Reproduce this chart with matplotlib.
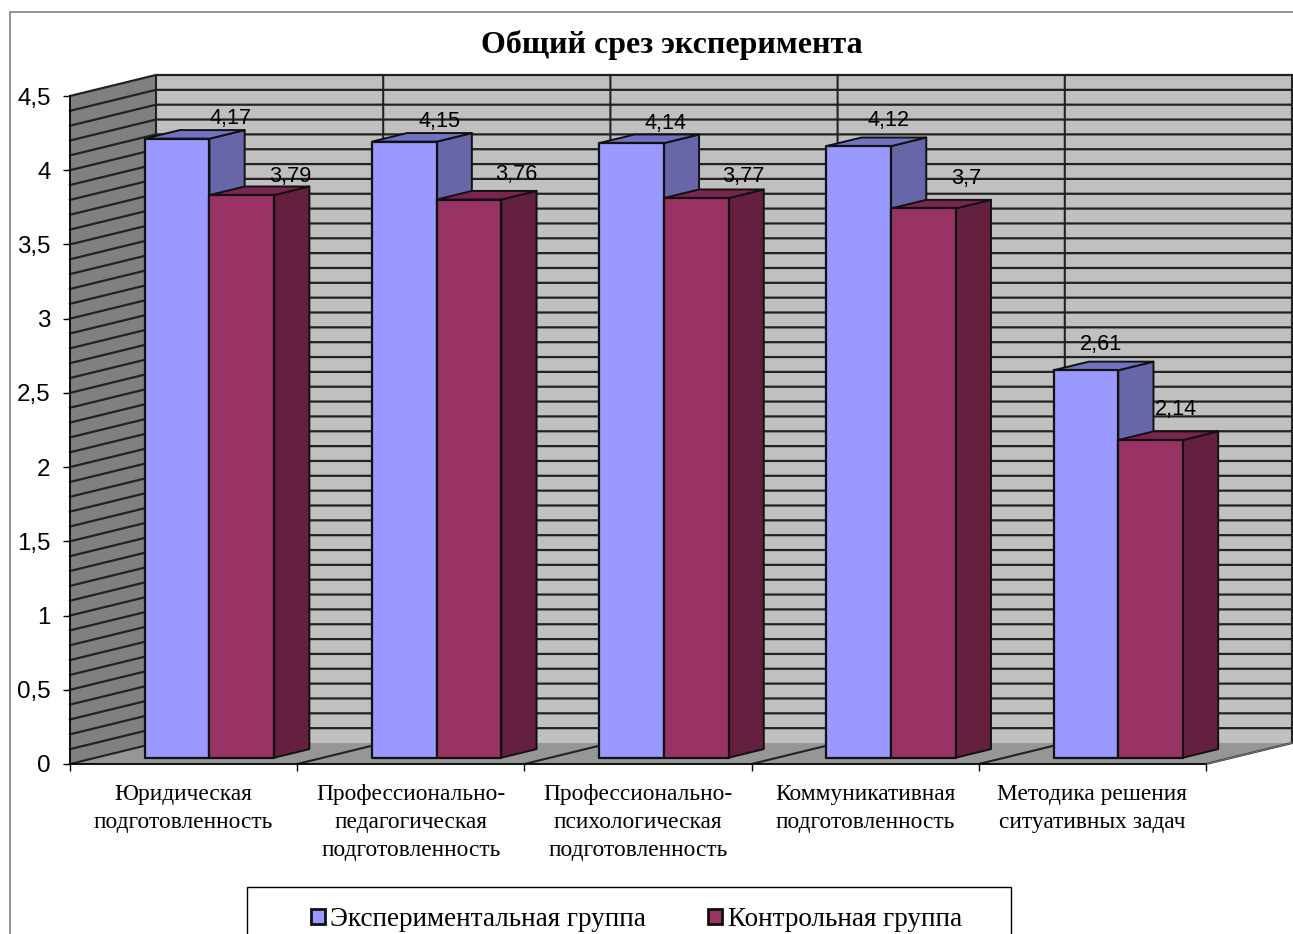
import matplotlib
matplotlib.use("Agg")
import matplotlib.pyplot as plt
from matplotlib.patches import Polygon, Rectangle
from matplotlib.ticker import FixedLocator, FixedFormatter

title = "Общий срез эксперимента"
categories = ["Юридическая\nподготовленность",
              "Профессионально-\nпедагогическая\nподготовленность",
              "Профессионально-\nпсихологическая\nподготовленность",
              "Коммуникативная\nподготовленность",
              "Методика решения\nситуативных задач"]
series_names = ["Экспериментальная группа", "Контрольная группа"]
experimental = [4.17, 4.15, 4.14, 4.12, 2.61]
control = [3.79, 3.76, 3.77, 3.70, 2.14]
y_ticks = [0, 0.5, 1, 1.5, 2, 2.5, 3, 3.5, 4, 4.5]
y_labels = ["0", "0,5", "1", "1,5", "2", "2,5", "3", "3,5", "4", "4,5"]
label_text_a = ["4,17", "4,15", "4,14", "4,12", "2,61"]
label_text_b = ["3,79", "3,76", "3,77", "3,7", "2,14"]

# styling / geometry
W, H = 1293, 934
SERIF = "Liberation Serif"
SANS = "Liberation Sans"
DEPTH_X = 86 / 227.2     # wall depth in category units
DEPTH_Y = 21 / 148.44    # wall depth in value units
BAR_W = 64.7 / 227.2
GAP_LEFT = (1 - 2 * BAR_W) / 2
BAR_D0, BAR_D1 = 0.30, 0.71
C_WALL, C_LEFT, C_FLOOR = "#C0C0C0", "#808080", "#969696"
A_FACES = ("#9999FF", "#6666A8", "#7272C4")
B_FACES = ("#993366", "#66203F", "#7A2450")
LINE = "#222222"
off_a = [(54, 20), (35, 20), (34, 20), (30, 26), (15, 26)]
off_b = [(48, 19), (47, 25), (47, 22), (43, 30), (25, 31)]

fig = plt.figure(figsize=(W / 100, H / 100), dpi=100)
fig.patch.set_facecolor("white")
ax = fig.add_axes([70 / W, (H - 764) / H, 1136 / W, 668 / H])
ax.set_xlim(0, 5)
ax.set_ylim(0, 4.5)
ax.patch.set_visible(False)

def poly(pts, fc, ec="none", lw=0, z=1):
    ax.add_patch(Polygon(pts, closed=True, fc=fc, ec=ec, lw=lw, zorder=z,
                         clip_on=False, joinstyle="round"))

DX, DY = DEPTH_X, DEPTH_Y
poly([(DX, DY), (5 + DX, DY), (5 + DX, 4.5 + DY), (DX, 4.5 + DY)], C_WALL)
poly([(0, 0), (DX, DY), (DX, 4.5 + DY), (0, 4.5)], C_LEFT)
poly([(0, 0), (5, 0), (5 + DX, DY), (DX, DY)], C_FLOOR)

for k in range(1, 46):
    v = k / 10
    ax.plot([0, DX, 5 + DX], [v, v + DY, v + DY], color=LINE, lw=1.6,
            clip_on=False, zorder=2, solid_joinstyle="miter")
for c in range(0, 6):
    ax.plot([c, c + DX, c + DX], [0, DY, 4.5 + DY], color=LINE, lw=1.5,
            clip_on=False, zorder=2, solid_joinstyle="miter")
ax.plot([5, 5 + DX], [0, DY], color="#707070", lw=1, clip_on=False, zorder=2)

def bar3d(x0, v, faces, z):
    x1 = x0 + BAR_W
    d0x, d0y = BAR_D0 * DX, BAR_D0 * DY
    d1x, d1y = BAR_D1 * DX, BAR_D1 * DY
    fl = [(x0 + d0x, d0y), (x1 + d0x, d0y), (x1 + d0x, v + d0y), (x0 + d0x, v + d0y)]
    side = [(x1 + d0x, d0y), (x1 + d1x, d1y), (x1 + d1x, v + d1y), (x1 + d0x, v + d0y)]
    top = [(x0 + d0x, v + d0y), (x1 + d0x, v + d0y), (x1 + d1x, v + d1y), (x0 + d1x, v + d1y)]
    poly(side, faces[1], "#111111", 1.4, z)
    poly(top, faces[2], "#111111", 1.4, z)
    poly(fl, faces[0], "#111111", 1.6, z)
    return (x0 + x1) / 2 + d0x, v + d0y

for i, (a, b) in enumerate(zip(experimental, control)):
    x0 = i + GAP_LEFT
    ca = bar3d(x0, a, A_FACES, 3 + i * 0.1)
    cb = bar3d(x0 + BAR_W, b, B_FACES, 3.05 + i * 0.1)
    for c, txt, off in ((ca, label_text_a[i], off_a[i]), (cb, label_text_b[i], off_b[i])):
        ax.annotate(txt, xy=c, xytext=off, textcoords="offset pixels", ha="center",
                    va="center", family=SANS, fontsize=15.6, color="black",
                    annotation_clip=False, zorder=6)

for s in ("top", "right"):
    ax.spines[s].set_visible(False)
for s in ("left", "bottom"):
    ax.spines[s].set_color("black")
    ax.spines[s].set_linewidth(1.3)
    ax.spines[s].set_zorder(5)

ax.yaxis.set_major_locator(FixedLocator(y_ticks))
ax.yaxis.set_major_formatter(FixedFormatter(y_labels))
ax.tick_params(axis="y", length=5, width=1, pad=9, labelsize=17.4, labelfontfamily=SANS)
ax.xaxis.set_major_locator(FixedLocator(range(6)))
ax.xaxis.set_major_formatter(FixedFormatter([""] * 6))
ax.tick_params(axis="x", which="major", length=5, width=1)
ax.xaxis.set_minor_locator(FixedLocator([i + 0.5 for i in range(5)]))
ax.xaxis.set_minor_formatter(FixedFormatter(categories))
ax.tick_params(axis="x", which="minor", length=0, pad=14.5, labelsize=16.8, labelfontfamily=SERIF)
for t in ax.xaxis.get_minorticklabels():
    t.set_linespacing(1.43)
    t.set_ha("center")

fig.text(672 / W, 1 - 45 / H, title, family=SERIF, fontsize=23, fontweight="bold",
         ha="center", va="center")

fig.add_artist(Rectangle((9.5 / W, -0.01), 1400 / W, 1 - 12 / H + 0.01, transform=fig.transFigure,
                         fc="none", ec="#808080", lw=1.2))
fig.add_artist(Rectangle((247 / W, -0.01), 764 / W, 1 - 887 / H + 0.01, transform=fig.transFigure,
                         fc="white", ec="black", lw=1.0))
handles = [Rectangle((0, 0), 1, 1, fc=A_FACES[0], ec="#111111", lw=2.0),
           Rectangle((0, 0), 1, 1, fc=B_FACES[0], ec="#111111", lw=2.0)]
leg = fig.legend(handles, series_names, loc="center left",
                 bbox_to_anchor=(311 / W, 1 - 919.5 / H), frameon=False, ncols=2,
                 prop={"family": SERIF, "size": 19.5}, handlelength=0.5, handleheight=0.5,
                 handletextpad=0.22, columnspacing=2.28, borderpad=0, borderaxespad=0)
leg.set_zorder(10)

fig.savefig("out.png", dpi=100)
